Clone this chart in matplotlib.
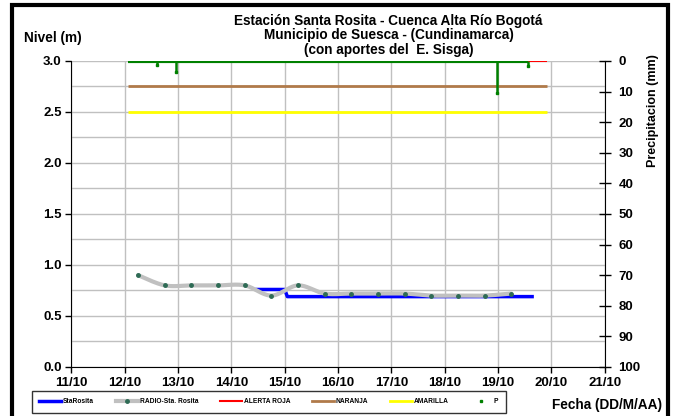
import numpy as np
import matplotlib.pyplot as plt
from matplotlib.lines import Line2D
from matplotlib.patches import Rectangle

plt.rcParams['font.family'] = ['Liberation Sans', 'DejaVu Sans']
plt.rcParams['font.weight'] = 'bold'

# fechas como dia de octubre (11 = 11/10)
sta_fechas = [14.48, 15.0, 15.05, 19.64]
sta_nivel = [0.76, 0.76, 0.69, 0.69]

radio_fechas = [12.25, 12.75, 13.25, 13.75, 14.25, 14.75, 15.25, 15.75,
                16.25, 16.75, 17.25, 17.75, 18.25, 18.75, 19.25]
radio_nivel = [0.90, 0.80, 0.80, 0.80, 0.80, 0.70, 0.80, 0.72,
               0.72, 0.72, 0.72, 0.70, 0.70, 0.70, 0.72]

# umbrales de alerta (m)
alerta_roja = 3.0
naranja = 2.75
amarilla = 2.5
umbral_inicio, umbral_fin = 12.07, 19.92

# precipitacion (mm), solo registros distintos de cero
p_inicio, p_fin = 12.07, 19.57
p_fechas = [12.61, 12.96, 18.99, 19.57]
p_mm = [1.3, 3.7, 10.3, 1.6]

dias = list(range(11, 22))
etiquetas = [f"{d}/10" for d in dias]


def suavizar(x, y, n=30):
    # curva tipo Catmull-Rom, parecida al "linea suavizada" de Excel
    x = np.asarray(x, float)
    y = np.asarray(y, float)
    xs = np.concatenate([[x[0]], x, [x[-1]]])
    ys = np.concatenate([[y[0]], y, [y[-1]]])
    t = np.linspace(0, 1, n)
    ox, oy = [], []
    for i in range(1, len(xs) - 2):
        for arr, out in ((xs, ox), (ys, oy)):
            p0, p1, p2, p3 = arr[i - 1], arr[i], arr[i + 1], arr[i + 2]
            out.extend(0.5 * (2 * p1 + (-p0 + p2) * t
                              + (2 * p0 - 5 * p1 + 4 * p2 - p3) * t ** 2
                              + (-p0 + 3 * p1 - 3 * p2 + p3) * t ** 3))
    return ox, oy


fig = plt.figure(figsize=(6.77, 4.16), dpi=100)
ax = fig.add_axes([0.1055, 0.1178, 0.7876, 0.7356])

ax.set_xlim(11, 21)
ax.set_ylim(0, 3.0)
ax.set_xticks(dias)
ax.set_xticklabels(etiquetas, fontsize=9.5, fontweight='bold')
ax.set_yticks([0, 0.5, 1.0, 1.5, 2.0, 2.5, 3.0])
ax.set_yticklabels([f"{v:.1f}" for v in [0, 0.5, 1.0, 1.5, 2.0, 2.5, 3.0]],
                   fontsize=9.5, fontweight='bold')
ax.set_yticks(np.arange(0, 3.01, 0.25), minor=True)
ax.grid(True, which='major', axis='x', color='#c0c0c0', lw=1)
ax.grid(True, which='both', axis='y', color='#c0c0c0', lw=1)
ax.tick_params(axis='y', which='minor', length=0)
ax.tick_params(axis='both', which='major', direction='out', length=4, width=1, pad=3)
ax.spines['top'].set_visible(False)
ax.spines['right'].set_visible(False)
ax.set_axisbelow(True)

ax.hlines(alerta_roja, umbral_inicio, umbral_fin, color='#ff0000', lw=1.5, zorder=3)
ax.hlines(naranja, umbral_inicio, umbral_fin, color='#b07a4a', lw=2, zorder=3)
ax.hlines(amarilla, umbral_inicio, umbral_fin, color='#ffff00', lw=2, zorder=3)

ax.plot(sta_fechas, sta_nivel, color='#0000ff', lw=2.5, zorder=4)
sx, sy = suavizar(radio_fechas, radio_nivel)
ax.plot(sx, sy, color='#c0c0c0', lw=3, zorder=5, solid_capstyle='round')
ax.plot(radio_fechas, radio_nivel, ls='none', marker='o', ms=2.5,
        color='#2e6b55', zorder=6)

ax2 = ax.twinx()
ax2.set_ylim(100, 0)
ax2.set_yticks(range(0, 101, 10))
ax2.set_yticklabels([str(v) for v in range(0, 101, 10)], fontsize=9.5, fontweight='bold')
ax2.tick_params(axis='y', direction='inout', length=8, width=1, pad=6)
ax2.spines['top'].set_visible(False)
ax2.spines['left'].set_visible(False)
ax2.spines['bottom'].set_visible(False)
ax2.hlines(0, p_inicio, p_fin, color='#008000', lw=3, zorder=5)
ax2.vlines(p_fechas, 0, p_mm, color='#008000', lw=1.8, zorder=5)
ax2.plot(p_fechas, p_mm, ls='none', marker='s', ms=2, color='#008000', zorder=5)

fig.text(0.574, 0.949, "Estación Santa Rosita - Cuenca Alta Río Bogotá",
         ha='center', va='center', fontsize=9.8, fontweight='bold')
fig.text(0.574, 0.915, "Municipio de Suesca - (Cundinamarca)",
         ha='center', va='center', fontsize=9.8, fontweight='bold')
fig.text(0.574, 0.879, "(con aportes del  E. Sisga)",
         ha='center', va='center', fontsize=9.8, fontweight='bold')
fig.text(0.078, 0.909, "Nivel (m)", ha='center', va='center',
         fontsize=9.8, fontweight='bold')
fig.text(0.965, 0.735, "Precipitacion (mm)", ha='center', va='center',
         rotation=90, fontsize=9, fontweight='bold')
fig.text(0.978, 0.027, "Fecha (DD/M/AA)", ha='right', va='center',
         fontsize=9.8, fontweight='bold')

handles = [
    Line2D([], [], color='#0000ff', lw=2.5),
    Line2D([], [], color='#c0c0c0', lw=3, marker='o', ms=2.5,
           mfc='#2e6b55', mec='#2e6b55'),
    Line2D([], [], color='#ff0000', lw=1.5),
    Line2D([], [], color='#b07a4a', lw=2),
    Line2D([], [], color='#ffff00', lw=2),
    Line2D([], [], ls='none', marker='s', ms=2, color='#008000'),
]
nombres = ["StaRosita", "RADIO-Sta. Rosita", "ALERTA ROJA", "NARANJA", "AMARILLA", "P"]
leg = fig.legend(handles, nombres, loc='lower left',
                 bbox_to_anchor=(0.047, 0.008, 0.70, 0.048), mode='expand',
                 ncol=6, prop={'weight': 'bold', 'size': 4.8},
                 frameon=True, fancybox=False, borderaxespad=0,
                 handlelength=3.3, handletextpad=0.3, columnspacing=1.0,
                 borderpad=1.1)
leg.get_frame().set_edgecolor('black')
leg.get_frame().set_linewidth(1)

fig.patches.append(Rectangle((0.0177, -0.02), 0.969, 1.008, transform=fig.transFigure,
                             fill=False, edgecolor='black', lw=3))

fig.savefig("out.png", dpi=100)
